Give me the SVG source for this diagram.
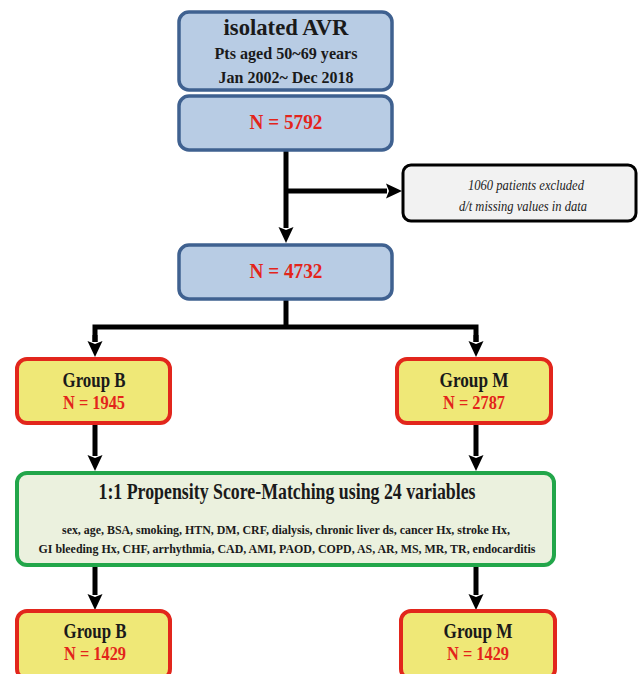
<svg xmlns="http://www.w3.org/2000/svg" width="638" height="674" viewBox="0 0 638 674">
<defs>
<marker id="ah" markerUnits="userSpaceOnUse" markerWidth="17" markerHeight="16" viewBox="0 -8 17 16" refX="1" refY="0" orient="auto">
<path d="M0,-7.5 L16,0 L0,7.5 L3,0 Z" fill="#000"/>
</marker>
<style>
.blue{fill:#b8cce4;stroke:#3f6190;stroke-width:3.5}
.yel{fill:#efe877;stroke:#e2261c;stroke-width:4}
.grn{fill:#ebf1de;stroke:#22a64a;stroke-width:4}
.exc{fill:#f2f2f2;stroke:#000;stroke-width:3}
.t{font-family:"Liberation Serif","Times New Roman",serif;font-weight:bold;text-anchor:middle;fill:#1a1a1a}
.r{fill:#e3241b}
.i{font-family:"Liberation Serif","Times New Roman",serif;font-style:italic;text-anchor:middle;fill:#222}
.c{fill:none;stroke:#000;stroke-width:5}
</style>
</defs>
<g id="connectors">
<line class="c" x1="286" y1="150" x2="286" y2="228" marker-end="url(#ah)"/>
<line class="c" x1="286" y1="191" x2="387" y2="191" marker-end="url(#ah)"/>
<polyline class="c" points="286,299 286,327"/>
<polyline class="c" points="95,342 95,327 476,327 476,342" stroke-linejoin="miter"/>
<line class="c" x1="95" y1="335" x2="95" y2="342" marker-end="url(#ah)"/>
<line class="c" x1="476" y1="335" x2="476" y2="342" marker-end="url(#ah)"/>
<line class="c" x1="95" y1="423" x2="95" y2="456" marker-end="url(#ah)"/>
<line class="c" x1="476" y1="423" x2="476" y2="456" marker-end="url(#ah)"/>
<line class="c" x1="95" y1="565" x2="95" y2="595" marker-end="url(#ah)"/>
<line class="c" x1="476" y1="565" x2="476" y2="595" marker-end="url(#ah)"/>
</g>
<g id="node-avr">
<rect class="blue" x="179" y="12" width="213" height="78" rx="10"/>
<text class="t" x="286" y="35" font-size="23" textLength="125" lengthAdjust="spacingAndGlyphs">isolated AVR</text>
<text class="t" x="286" y="59" font-size="17.5" textLength="143" lengthAdjust="spacingAndGlyphs">Pts aged 50~69 years</text>
<text class="t" x="286" y="83" font-size="17.5" textLength="135" lengthAdjust="spacingAndGlyphs">Jan 2002~ Dec 2018</text>
</g>
<g id="node-n5792">
<rect class="blue" x="179" y="96" width="213" height="54" rx="10"/>
<text class="t r" x="286" y="129" font-size="20.5" textLength="73" lengthAdjust="spacingAndGlyphs">N = 5792</text>
</g>
<g id="node-excluded">
<rect class="exc" x="403" y="165" width="233" height="56" rx="8"/>
<text class="i" x="526" y="190" font-size="15.5" textLength="116" lengthAdjust="spacingAndGlyphs">1060 patients excluded</text>
<text class="i" x="523" y="211" font-size="15.5" textLength="128" lengthAdjust="spacingAndGlyphs">d/t missing values in data</text>
</g>
<g id="node-n4732">
<rect class="blue" x="179" y="245" width="213" height="54" rx="10"/>
<text class="t r" x="286" y="278" font-size="20.5" textLength="73" lengthAdjust="spacingAndGlyphs">N = 4732</text>
</g>
<g id="node-groupB1">
<rect class="yel" x="17" y="359" width="153" height="64" rx="10"/>
<text class="t" x="94" y="387" font-size="20.5" textLength="63" lengthAdjust="spacingAndGlyphs">Group B</text>
<text class="t r" x="94" y="409" font-size="19" textLength="62" lengthAdjust="spacingAndGlyphs">N = 1945</text>
</g>
<g id="node-groupM1">
<rect class="yel" x="397" y="359" width="154" height="64" rx="10"/>
<text class="t" x="474" y="387" font-size="20.5" textLength="69" lengthAdjust="spacingAndGlyphs">Group M</text>
<text class="t r" x="474" y="409" font-size="19" textLength="62" lengthAdjust="spacingAndGlyphs">N = 2787</text>
</g>
<g id="node-psm">
<rect class="grn" x="17" y="473" width="537" height="92" rx="10"/>
<text class="t" x="287" y="499" font-size="24" textLength="377" lengthAdjust="spacingAndGlyphs">1:1 Propensity Score-Matching using 24 variables</text>
<text class="t" x="286" y="534" font-size="13.5" textLength="448" lengthAdjust="spacingAndGlyphs">sex, age, BSA, smoking, HTN, DM, CRF, dialysis, chronic liver ds, cancer Hx, stroke Hx,</text>
<text class="t" x="287" y="553" font-size="13.5" textLength="497" lengthAdjust="spacingAndGlyphs">GI bleeding Hx, CHF, arrhythmia, CAD, AMI, PAOD, COPD, AS, AR, MS, MR, TR, endocarditis</text>
</g>
<g id="node-groupB2">
<rect class="yel" x="17" y="611" width="153" height="68" rx="10"/>
<text class="t" x="95" y="638" font-size="20.5" textLength="63" lengthAdjust="spacingAndGlyphs">Group B</text>
<text class="t r" x="95" y="660" font-size="19" textLength="62" lengthAdjust="spacingAndGlyphs">N = 1429</text>
</g>
<g id="node-groupM2">
<rect class="yel" x="401" y="611" width="154" height="68" rx="10"/>
<text class="t" x="478" y="638" font-size="20.5" textLength="69" lengthAdjust="spacingAndGlyphs">Group M</text>
<text class="t r" x="478" y="660" font-size="19" textLength="62" lengthAdjust="spacingAndGlyphs">N = 1429</text>
</g>
</svg>
